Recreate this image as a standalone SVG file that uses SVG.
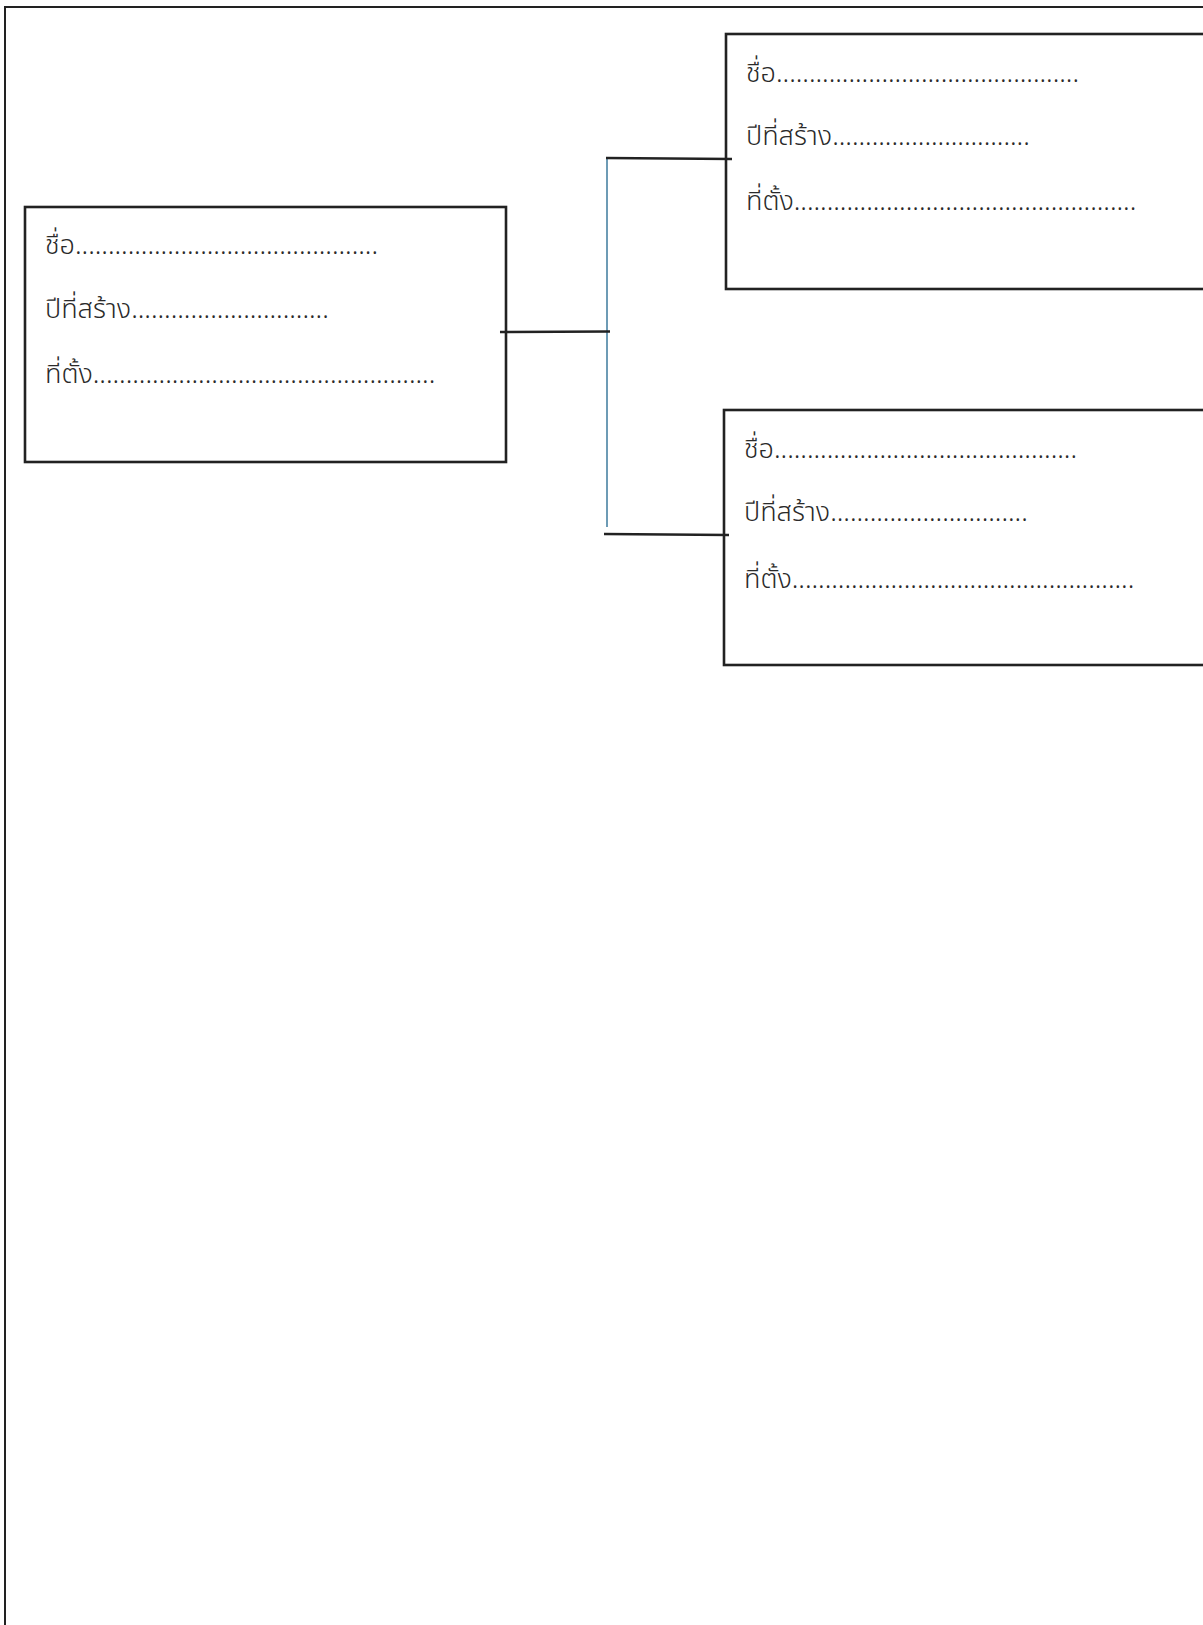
<svg xmlns="http://www.w3.org/2000/svg" width="1203" height="1625" viewBox="0 0 1203 1625">
<style>
.box{fill:#fff;stroke:#222;stroke-width:2.6}
.t{font-family:"Noto Sans Thai","Noto Sans","DejaVu Sans",sans-serif;font-size:27px;font-weight:300;fill:#2a2a2a}
.c{stroke:#222;stroke-width:2.6;fill:none}
.v{stroke:#3d7a9c;stroke-width:1.5;fill:none}
</style>
<rect width="1203" height="1625" fill="#fff"/>
<path d="M5,1625 V7 H1203" fill="none" stroke="#222" stroke-width="2"/>
<g id="node-left">
<rect class="box" x="25" y="207" width="481" height="255"/>
<text class="t" x="45" y="254">ชื่อ..............................................</text>
<text class="t" x="45" y="318">ปีที่สร้าง..............................</text>
<text class="t" x="45" y="383">ที่ตั้ง....................................................</text>
</g>
<g id="node-top-right">
<rect class="box" x="726" y="34" width="500" height="255"/>
<text class="t" x="746" y="82">ชื่อ..............................................</text>
<text class="t" x="746" y="145">ปีที่สร้าง..............................</text>
<text class="t" x="746" y="210">ที่ตั้ง....................................................</text>
</g>
<g id="node-bottom-right">
<rect class="box" x="724" y="410" width="500" height="255"/>
<text class="t" x="744" y="458">ชื่อ..............................................</text>
<text class="t" x="744" y="521">ปีที่สร้าง..............................</text>
<text class="t" x="744" y="588">ที่ตั้ง....................................................</text>
</g>
<g id="connectors">
<line class="v" x1="607" y1="158" x2="607" y2="527"/>
<line class="c" x1="500" y1="332" x2="610" y2="331.5"/>
<line class="c" x1="606" y1="158" x2="732" y2="159"/>
<line class="c" x1="604" y1="534" x2="729" y2="535"/>
</g>
</svg>
